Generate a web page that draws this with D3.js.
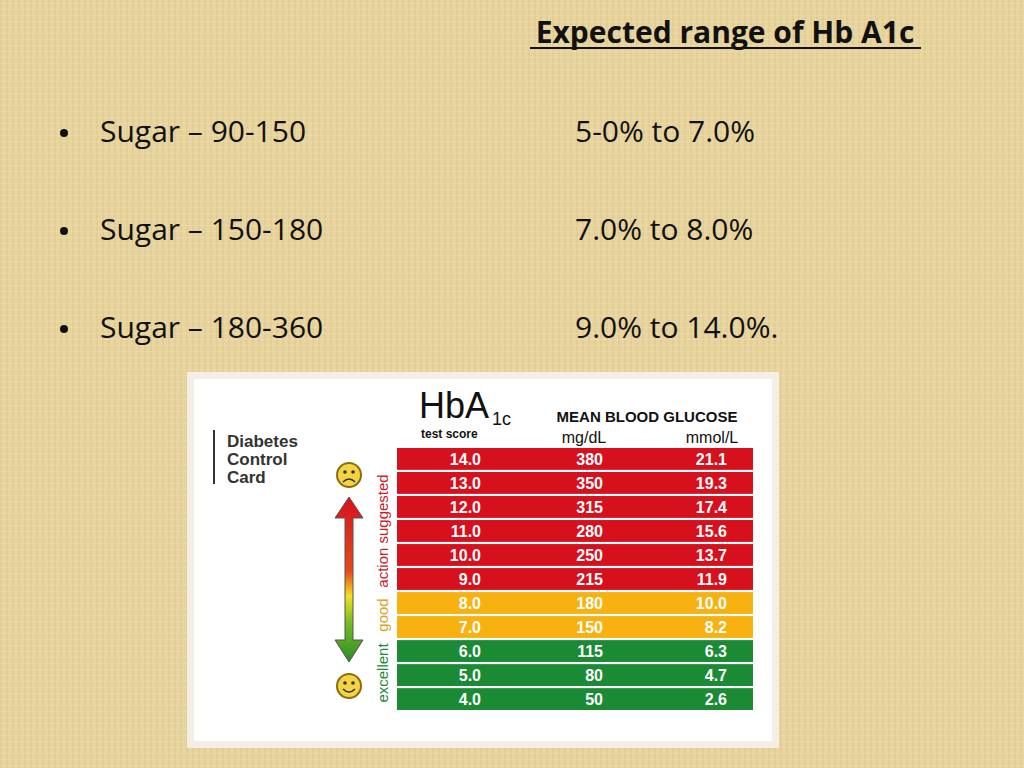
<!DOCTYPE html><html><head><meta charset="utf-8"><script src="https://cdn.jsdelivr.net/npm/d3@7"></script>
<style>body{margin:0;background:#e6d39c}</style></head><body><svg id="c" width="1024" height="768"></svg><script>
const title="Expected range of Hb A1c";
const sugarRanges=["Sugar – 90-150","Sugar – 150-180","Sugar – 180-360"];
const a1cRanges=["5-0% to 7.0%","7.0% to 8.0%","9.0% to 14.0%."];
const hba1c=["14.0","13.0","12.0","11.0","10.0","9.0","8.0","7.0","6.0","5.0","4.0"];
const mgdl=[380,350,315,280,250,215,180,150,115,80,50];
const mmol=["21.1","19.3","17.4","15.6","13.7","11.9","10.0","8.2","6.3","4.7","2.6"];
const zones=["action","action","action","action","action","action","good","good","excellent","excellent","excellent"];
const zoneColor={action:"#d7101d",good:"#f7b212",excellent:"#1a8a35"};
const svg=d3.select("#c");
const defs=svg.append("defs");
const pat=defs.append("pattern").attr("id","tex").attr("width",6).attr("height",6).attr("patternUnits","userSpaceOnUse");
pat.append("rect").attr("width",6).attr("height",6).attr("fill","#e8d49e");
pat.append("rect").attr("width",2).attr("height",6).attr("fill","#dcc68c").attr("opacity",0.5);
pat.append("rect").attr("y",3).attr("width",6).attr("height",1).attr("fill","#f0dfae").attr("opacity",0.5);
svg.append("rect").attr("width",1024).attr("height",768).attr("fill","url(#tex)");
const F="'Open Sans','Liberation Sans',sans-serif";
svg.append("text").attr("x",725).attr("y",43).attr("text-anchor","middle").attr("font-family",F).attr("font-weight","bold").attr("font-size",30).attr("fill","#111").text(title);
svg.append("line").attr("x1",530).attr("x2",921).attr("y1",48).attr("y2",48).attr("stroke","#111").attr("stroke-width",2);
const by=d3.scaleBand().domain(d3.range(3)).range([83,377]);
sugarRanges.forEach((s,i)=>{
  const y=by(i)+by.bandwidth()/2+10;
  svg.append("circle").attr("cx",64).attr("cy",y-9).attr("r",4).attr("fill","#111");
  svg.append("text").attr("x",100).attr("y",y).attr("font-family",F).attr("font-size",30).attr("fill","#111").text(s);
  svg.append("text").attr("x",575).attr("y",y).attr("font-family",F).attr("font-size",30).attr("fill","#111").text(a1cRanges[i]);
});
svg.append("rect").attr("x",187).attr("y",372).attr("width",592).attr("height",376).attr("fill","#f3efe6");
svg.append("rect").attr("x",194).attr("y",379).attr("width",578).attr("height",362).attr("fill","#fff");
const A="'Liberation Sans',Arial,sans-serif";
svg.append("line").attr("x1",214).attr("x2",214).attr("y1",430).attr("y2",484).attr("stroke","#333").attr("stroke-width",2);
["Diabetes","Control","Card"].forEach((t,i)=>svg.append("text").attr("x",227).attr("y",447+i*18).attr("font-family",A).attr("font-weight","bold").attr("font-size",17).attr("fill","#333").text(t));
svg.append("text").attr("x",419).attr("y",418).attr("font-family",A).attr("font-size",36).attr("fill","#111").text("HbA");
svg.append("text").attr("x",492).attr("y",425).attr("font-family",A).attr("font-size",18).attr("fill","#111").text("1c");
svg.append("text").attr("x",421).attr("y",438).attr("font-family",A).attr("font-weight","bold").attr("font-size",12).attr("fill","#111").text("test score");
svg.append("text").attr("x",647).attr("y",422).attr("text-anchor","middle").attr("font-family",A).attr("font-weight","bold").attr("font-size",15).attr("fill","#111").text("MEAN BLOOD GLUCOSE");
svg.append("text").attr("x",584).attr("y",443).attr("text-anchor","middle").attr("font-family",A).attr("font-size",16).attr("fill","#111").text("mg/dL");
svg.append("text").attr("x",712).attr("y",443).attr("text-anchor","middle").attr("font-family",A).attr("font-size",16).attr("fill","#111").text("mmol/L");
const y=d3.scaleBand().domain(d3.range(hba1c.length)).range([448,710]).paddingInner(0.09);
const g=svg.append("g");
hba1c.forEach((h,i)=>{
  const yy=y(i),bh=y.bandwidth();
  g.append("rect").attr("x",397).attr("y",yy).attr("width",356).attr("height",bh).attr("fill",zoneColor[zones[i]]);
  const ty=yy+bh/2+6;
  [[481,h],[603,mgdl[i]],[727,mmol[i]]].forEach(([x,t])=>g.append("text").attr("x",x).attr("y",ty).attr("text-anchor","end").attr("font-family",A).attr("font-weight","bold").attr("font-size",16).attr("fill","#fff").text(t));
});
const grad=defs.append("linearGradient").attr("id","ag").attr("x1",0).attr("x2",0).attr("y1",0).attr("y2",1);
[[0,"#d7101d"],[0.45,"#e84a1a"],[0.6,"#f5e020"],[0.75,"#7cc020"],[1,"#2a8a2a"]].forEach(([o,c])=>grad.append("stop").attr("offset",o).attr("stop-color",c));
svg.append("path").attr("d","M349,497 L363,518 L353,518 L353,640 L363,640 L349,662 L335,640 L345,640 L345,518 L335,518 Z").attr("fill","url(#ag)").attr("stroke","#555").attr("stroke-width",1);
function face(cy,happy){
  svg.append("circle").attr("cx",349).attr("cy",cy).attr("r",12).attr("fill","#f5d442").attr("stroke","#8a6d10").attr("stroke-width",2);
  svg.append("circle").attr("cx",345).attr("cy",cy-3).attr("r",1.8).attr("fill","#333");
  svg.append("circle").attr("cx",353).attr("cy",cy-3).attr("r",1.8).attr("fill","#333");
  svg.append("path").attr("d",happy?`M343,${cy+3} Q349,${cy+9} 355,${cy+3}`:`M343,${cy+7} Q349,${cy+1} 355,${cy+7}`).attr("fill","none").attr("stroke","#333").attr("stroke-width",1.6);
}
face(475,false);face(686,true);
[["action suggested",531,"#c8202a"],["good",615,"#e0a020"],["excellent",673,"#1a8a35"]].forEach(([t,cy,c])=>svg.append("text").attr("transform",`translate(388,${cy}) rotate(-90)`).attr("text-anchor","middle").attr("font-family",A).attr("font-size",15).attr("fill",c).text(t));
</script></body></html>
